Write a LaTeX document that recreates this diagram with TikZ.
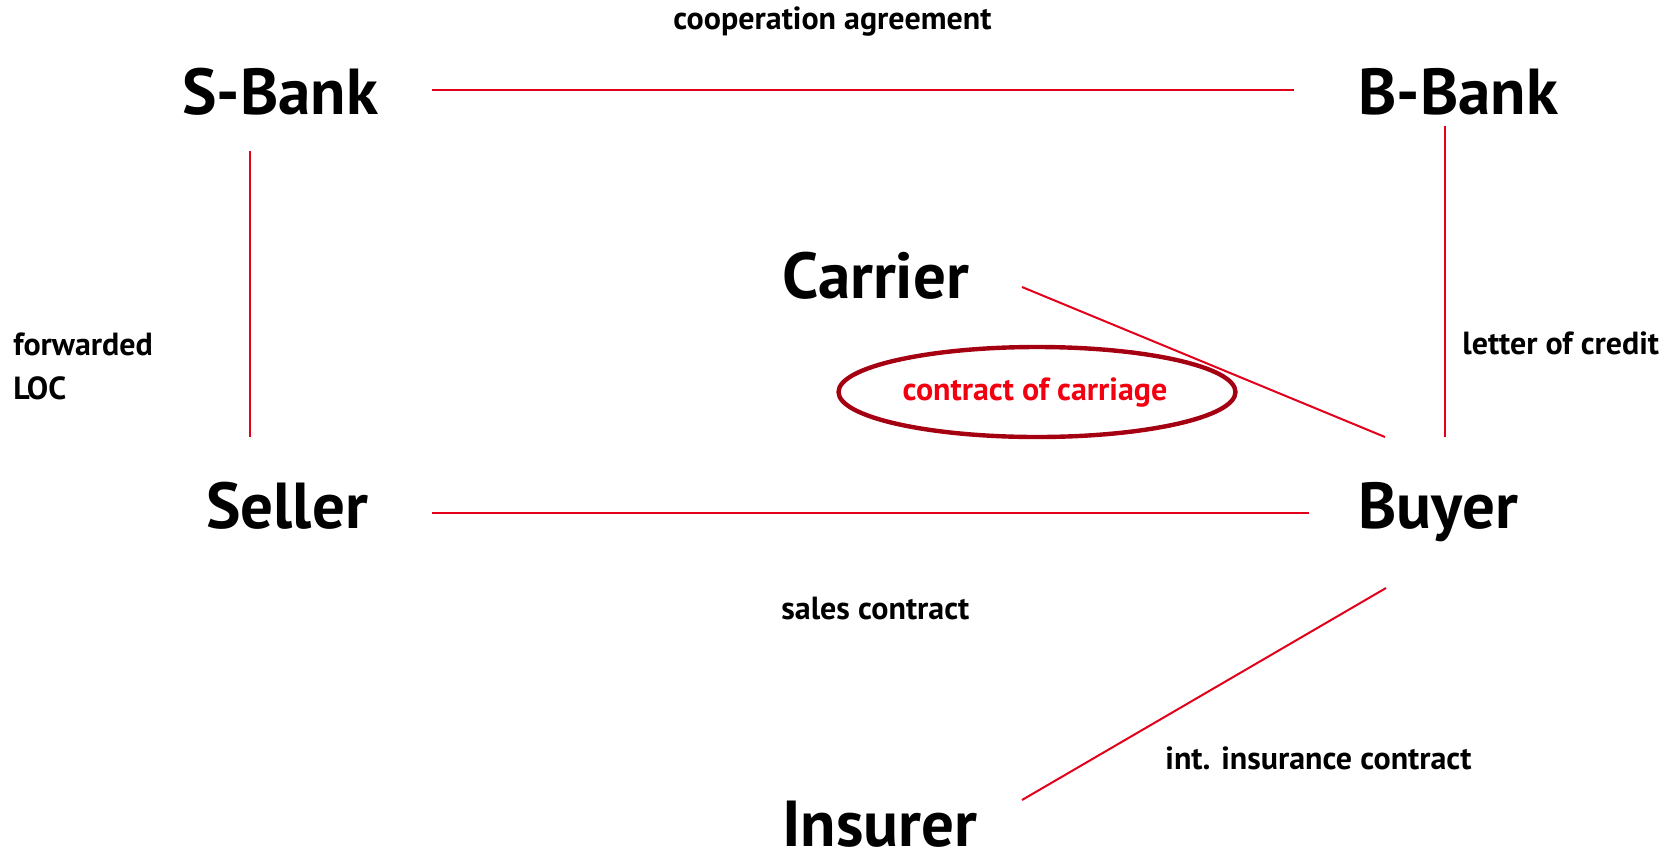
\documentclass[tikz,border=0pt]{standalone}
\usepackage{fontspec}
\setmainfont{PT Sans}
\usetikzlibrary{shapes.geometric}
\definecolor{linered}{HTML}{E2001A}
\definecolor{ovalred}{HTML}{A50012}
\definecolor{textred}{HTML}{F20010}
\tikzset{
  big/.style={font=\bfseries\fontsize{32.5}{36}\selectfont, inner sep=0pt, anchor=base west},
  small/.style={font=\bfseries\fontsize{16}{19}\selectfont, inner sep=0pt, anchor=base west},
  conn/.style={draw=linered, line width=1pt},
}
\begin{document}
\begin{tikzpicture}[x=0.5pt,y=-0.5pt]
\useasboundingbox (0,0) rectangle (1677,853);
% entities
\node[big] (sbank) at (182,114) {S-Bank};
\node[big] (bbank) at (1358,114) {B-Bank};
\node[big] (carrier) at (782,298) {Carrier};
\node[big] (seller) at (206,528) {Seller};
\node[big] (buyer) at (1358,528) {Buyer};
\node[big] (insurer) at (782,846) {Insurer};
% labels
\node[small] (coop) at (673,29) {cooperation agreement};
\node[small, align=left, anchor=north west] (fwd) at (13,332) {forwarded\\[3pt]LOC};
\node[small] (loc) at (1462,354) {letter of credit};
\node[small] (sales) at (781,619) {sales contract};
\node[small] (ins) at (1165,769) {int. insurance contract};
% oval
\node[ellipse, draw=ovalred, line width=2.2pt, minimum width=198.5pt, minimum height=45pt, inner sep=0pt] (oval) at (1037,392) {};
\node[small, text=textred, anchor=base] (coc) at (1035,400) {contract of carriage};
% connector end points
\coordinate (sb-e) at (432,90);
\coordinate (bb-w) at (1294,90);
\coordinate (sb-s) at (250,151);
\coordinate (se-n) at (250,437);
\coordinate (bb-s) at (1445,126);
\coordinate (bu-n) at (1445,437);
\coordinate (ca-e) at (1022,287);
\coordinate (bu-nw) at (1385,437);
\coordinate (se-e) at (432,513);
\coordinate (bu-w) at (1309,513);
\coordinate (bu-sw) at (1386,588);
\coordinate (in-ne) at (1022,800);
% connectors
\draw[conn] (sb-e) -- (bb-w);
\draw[conn] (sb-s) -- (se-n);
\draw[conn] (bb-s) -- (bu-n);
\draw[conn] (ca-e) -- (bu-nw);
\draw[conn] (se-e) -- (bu-w);
\draw[conn] (bu-sw) -- (in-ne);
\end{tikzpicture}
\end{document}
